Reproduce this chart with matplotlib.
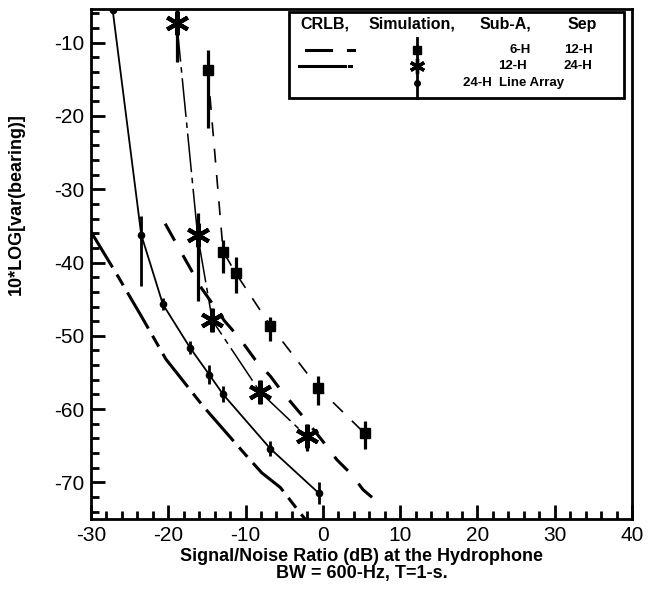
import matplotlib

matplotlib.use("Agg")
import matplotlib.pyplot as plt
from matplotlib.lines import Line2D
from matplotlib.patches import Rectangle
from matplotlib.ticker import MultipleLocator

plt.rcParams["font.family"] = ["Liberation Sans", "DejaVu Sans"]
plt.rcParams["lines.scale_dashes"] = False
plt.rcParams["axes.unicode_minus"] = False

# CRLB curves
crlb_a_snr = [-30.0, -26.5, -23.5, -20.3, -18.5, -15.5, -9.7, -7.9, -5.5, -3.0, -2.3]
crlb_a_var = [-35.8, -41.9, -47.3, -53.2, -55.6, -59.6, -66.6, -68.7, -70.7, -74.1, -75.0]
crlb_b_snr = [-20.4, -17.9, -15.7, -12.7, -10.8, -8.8, -6.8, -5.3, -2.1, 0.3, 1.8, 3.7, 5.2, 7.2]
crlb_b_var = [-34.7, -39.4, -43.5, -48.0, -50.3, -53.2, -55.5, -57.6, -61.6, -64.8, -66.9, -68.9, -71.0, -72.8]

# simulation: 6-H sub-array, 12-H separation
sq_snr = [-14.9, -12.9, -11.3, -6.8, -0.6, 5.4]
sq_var = [-13.7, -38.5, -41.4, -48.6, -57.1, -63.3]
sq_err_lo = [7.9, 2.9, 2.7, 2.1, 2.3, 2.2]
sq_err_hi = [2.7, 1.6, 2.1, 1.2, 1.6, 1.7]

# simulation: 12-H sub-array, 24-H separation
star_snr = [-18.9, -16.2, -14.3, -8.1, -2.1]
star_var = [-7.3, -36.3, -47.9, -57.7, -63.7]
star_err_lo = [5.4, 9.0, 1.5, 0.8, 2.0]
star_err_hi = [2.0, 3.1, 1.2, 0.8, 1.4]

# simulation: 24-H line array
dot_snr = [-27.2, -23.5, -20.7, -17.2, -14.7, -12.9, -6.8, -0.5]
dot_var = [-5.5, -36.2, -45.7, -51.6, -55.3, -58.0, -65.4, -71.5]
dot_err_lo = [0.0, 7.0, 0.8, 0.9, 1.3, 1.1, 1.0, 1.5]
dot_err_hi = [0.0, 2.5, 0.8, 0.9, 1.3, 1.1, 1.0, 1.5]

STYLE_A = (0, (30, 6, 9, 6))
STYLE_B = (0, (14, 12))
ASTER = (6, 2, 0)

fig = plt.figure(figsize=(6.52, 5.91), dpi=100)
ax = fig.add_axes([91 / 652, 1 - 519 / 591, 541 / 652, 510 / 591])

ax.plot(crlb_a_snr, crlb_a_var, color="black", lw=2.2, linestyle=STYLE_A)
ax.plot(crlb_b_snr, crlb_b_var, color="black", lw=2.2, linestyle=STYLE_B)

ax.plot(sq_snr, sq_var, color="black", lw=1.2, linestyle=(0, (10, 9)))
ax.plot(star_snr, star_var, color="black", lw=1.1, linestyle=(0, (28, 4, 4, 4)))
ax.plot(dot_snr, dot_var, color="black", lw=1.3)

ax.errorbar(sq_snr, sq_var, yerr=[sq_err_lo, sq_err_hi], fmt="s", color="black",
            ms=7, elinewidth=2.3, capsize=0)
ax.errorbar(star_snr, star_var, yerr=[star_err_lo, star_err_hi], fmt="none", ecolor="black",
            elinewidth=2.3, capsize=0)
ax.plot(star_snr, star_var, linestyle="none", marker=ASTER, color="black", ms=17, mew=3)
ax.errorbar(dot_snr, dot_var, yerr=[dot_err_lo, dot_err_hi], fmt="o", color="black",
            ms=4.5, elinewidth=2.0, capsize=0)

ax.set_xlim(-30, 40)
ax.set_ylim(-75, -5.4)
ax.xaxis.set_major_locator(MultipleLocator(10))
ax.xaxis.set_minor_locator(MultipleLocator(2))
ax.yaxis.set_major_locator(MultipleLocator(10))
ax.yaxis.set_minor_locator(MultipleLocator(2))
ax.tick_params(which="both", direction="in", width=2, top=False, right=False, labelsize=15)
ax.tick_params(which="major", length=10, pad=5)
ax.tick_params(which="minor", length=5.5)
for spine in ax.spines.values():
    spine.set_linewidth(2)

ax.set_xlabel("Signal/Noise Ratio (dB) at the Hydrophone\nBW = 600-Hz, T=1-s.",
              fontsize=13, fontweight="bold", linespacing=1.0, labelpad=2)
fig.text(0.025, 0.655, "10*LOG[var(bearing)]", rotation=90, ha="center", va="center",
         fontsize=13, fontweight="bold")

# hand-made legend box
def fx(px):
    return (px - 91) / 541


def fy(py):
    return (519 - py) / 510


tr = ax.transAxes
ax.add_patch(Rectangle((fx(289), fy(98)), fx(624) - fx(289), fy(12) - fy(98),
                       transform=tr, fill=True, facecolor="white", edgecolor="black",
                       lw=2, zorder=5))
hdr = dict(transform=tr, fontsize=11.5, fontweight="bold", ha="center", va="center", zorder=6)
ax.text(fx(325), fy(24), "CRLB,", **hdr)
ax.text(fx(412), fy(24), "Simulation,", **hdr)
ax.text(fx(505), fy(24), "Sub-A,", **hdr)
ax.text(fx(582), fy(24), "Sep", **hdr)
row = dict(transform=tr, fontsize=9.5, fontweight="bold", ha="center", va="center", zorder=6)
ax.text(fx(520), fy(50), "6-H", **row)
ax.text(fx(578), fy(50), "12-H", **row)
ax.text(fx(512), fy(66), "12-H", **row)
ax.text(fx(578), fy(66), "24-H", **row)
ax.text(fx(514), fy(83), "24-H  Line Array", **row)

for xs, ys, lw in [((306, 331), (50, 50), 2.2), ((348, 354), (50, 50), 2.2),
                   ((299, 345), (66, 66), 2.2), ((349, 351), (66, 66), 2.2),
                   ((417, 417), (38, 98), 2.0)]:
    ax.add_line(Line2D([fx(x) for x in xs], [fy(y) for y in ys], transform=tr,
                       color="black", lw=lw, zorder=6))
ax.plot([fx(417)], [fy(50)], marker="s", ms=6, color="black", transform=tr, zorder=7)
ax.plot([fx(417)], [fy(66)], marker=ASTER, ms=11, mew=2.4, color="black", transform=tr, zorder=7)
ax.plot([fx(417)], [fy(83)], marker="o", ms=4, color="black", transform=tr, zorder=7)

fig.savefig("out.png", dpi=100)
